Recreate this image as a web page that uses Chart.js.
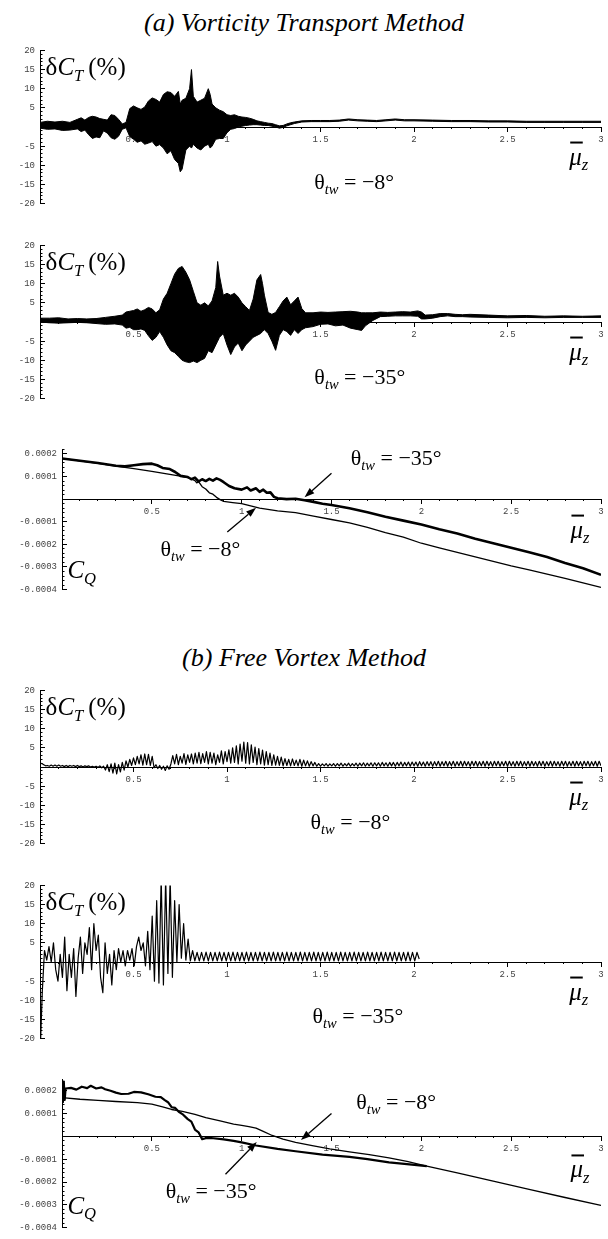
<!DOCTYPE html>
<html>
<head>
<meta charset="utf-8">
<script src="https://cdn.jsdelivr.net/npm/chart.js@4.4.1/dist/chart.umd.min.js"></script>
<style>
  html, body { margin: 0; padding: 0; background: #fff; }
  #page { position: relative; width: 608px; height: 1239px; overflow: hidden; }
  #page canvas { position: absolute; left: 0; }
  .ttl { position: absolute; left: 0; width: 608px; text-align: center;
         font: italic 26px "Liberation Serif", "Times New Roman", serif; line-height: 26px; }
</style>
</head>
<body>
<div id="page">
  <div class="ttl" style="top:10px">(a) Vorticity Transport Method</div>
  <canvas id="c1" width="608" height="184" style="top:35px"></canvas>
  <canvas id="c2" width="608" height="184" style="top:230px"></canvas>
  <canvas id="c3" width="608" height="171" style="top:434px"></canvas>
  <div class="ttl" style="top:645px">(b) Free Vortex Method</div>
  <canvas id="c4" width="608" height="184" style="top:675px"></canvas>
  <canvas id="c5" width="608" height="184" style="top:870px"></canvas>
  <canvas id="c6" width="608" height="179" style="top:1064px"></canvas>
</div>
<script>
// ---- (a) vorticity transport, dC_T envelope (upper / lower edge of the oscillation band)
const vtm8X = [0, 0.04, 0.08, 0.12, 0.16, 0.2, 0.22, 0.24, 0.26, 0.28,
  0.3, 0.32, 0.34, 0.36, 0.38, 0.4, 0.42, 0.44, 0.46, 0.48,
  0.5, 0.52, 0.54, 0.56, 0.58, 0.6, 0.62, 0.64, 0.66, 0.68,
  0.7, 0.72, 0.74, 0.75, 0.76, 0.78, 0.8, 0.81, 0.82, 0.84,
  0.86, 0.88, 0.9, 0.91, 0.92, 0.94, 0.96, 0.98, 1.0, 1.02,
  1.04, 1.06, 1.08, 1.1, 1.12, 1.14, 1.16, 1.18, 1.2, 1.22,
  1.24, 1.26, 1.28, 1.3, 1.32, 1.34, 1.36, 1.4, 1.45, 1.5,
  1.55, 1.6, 1.65, 1.7, 1.75, 1.8, 1.85, 1.9, 1.95, 2.0,
  2.1, 2.2, 2.3, 2.4, 2.5, 2.6, 2.7, 2.8, 2.9, 3.0];
const vtm8Hi = [1.2, 1.5, 1.3, 1.5, 1.2, 2.0, 2.4, 1.8, 2.5, 2.8,
  2.6, 2.2, 2.0, 1.8, 3.2, 3.0, 2.0, 0.8, 1.2, 4.8,
  5.5, 5.0, 4.6, 5.2, 6.8, 7.6, 7.2, 6.5, 8.5, 9.2,
  9.0, 8.0, 9.3, 6.0, 7.0, 7.5, 10.0, 15.0, 8.0, 6.5,
  7.0, 7.5, 10.0, 8.5, 6.0, 5.0, 4.4, 4.0, 3.2, 3.0,
  3.2, 2.8, 2.6, 2.5, 2.3, 2.0, 1.6, 1.4, 1.2, 1.0,
  0.9, 0.6, 0.3, 0.4, 0.8, 1.1, 1.3, 1.6, 1.7, 1.7,
  1.7, 1.8, 2.1, 1.9, 1.8, 1.7, 1.9, 2.1, 1.9, 1.9,
  1.8, 1.7, 1.7, 1.6, 1.6, 1.5, 1.5, 1.5, 1.5, 1.5];
const vtm8Lo = [-0.3, -0.6, -0.5, -0.9, -0.8, -0.5, -1.2, -0.8, -2.0, -3.0,
  -2.6, -2.8, -1.0, -1.6, -2.8, -3.2, -2.4, -0.6, -0.2, -2.5,
  -3.2, -4.0, -3.6, -4.5, -4.2, -3.8, -5.0, -4.6, -5.5, -7.0,
  -6.2, -8.5, -9.5, -11.7, -11.0, -6.0, -5.0, -5.5, -4.5, -5.5,
  -6.0, -5.0, -4.5, -5.5, -5.0, -3.2, -3.0, -3.0, -1.5, -0.6,
  -0.4, 0.0, 0.2, 0.4, 0.5, 0.6, 0.6, 0.5, 0.4, 0.4,
  0.2, 0.0, -0.3, -0.1, 0.3, 0.6, 0.9, 1.3, 1.4, 1.4,
  1.4, 1.5, 1.8, 1.6, 1.5, 1.4, 1.6, 1.8, 1.6, 1.6,
  1.5, 1.4, 1.4, 1.3, 1.3, 1.2, 1.2, 1.2, 1.2, 1.2];

const vtm35X = [0, 0.05, 0.1, 0.15, 0.2, 0.25, 0.3, 0.35, 0.4, 0.44,
  0.46, 0.48, 0.5, 0.52, 0.54, 0.56, 0.58, 0.6, 0.62, 0.64,
  0.66, 0.68, 0.7, 0.72, 0.74, 0.76, 0.78, 0.8, 0.82, 0.84,
  0.86, 0.88, 0.9, 0.92, 0.94, 0.95, 0.96, 0.98, 1.0, 1.02,
  1.04, 1.06, 1.08, 1.1, 1.12, 1.14, 1.16, 1.18, 1.19, 1.2,
  1.22, 1.24, 1.26, 1.28, 1.3, 1.32, 1.34, 1.36, 1.38, 1.4,
  1.42, 1.46, 1.5, 1.54, 1.58, 1.62, 1.66, 1.7, 1.72, 1.74,
  1.78, 1.82, 1.86, 1.9, 1.94, 1.98, 2.02, 2.04, 2.06, 2.1,
  2.14, 2.18, 2.22, 2.26, 2.3, 2.4, 2.5, 2.6, 2.7, 2.8,
  2.9, 3.0];
const vtm35Hi = [1.0, 1.0, 1.1, 0.8, 0.9, 0.8, 0.9, 1.2, 1.5, 1.8,
  2.6, 2.8, 3.0, 3.4, 2.8, 3.2, 3.8, 3.4, 2.4, 3.2,
  6.0, 7.5, 10.0, 12.5, 14.0, 14.5, 13.0, 11.0, 8.0, 5.0,
  4.4, 5.0, 4.2, 5.5, 9.0, 15.8, 12.0, 7.0, 7.5, 7.0,
  7.5, 6.5, 5.0, 4.0, 3.0, 6.0, 11.0, 12.4, 10.0, 7.0,
  2.5, 2.0, 2.5, 4.0, 5.5, 6.5, 4.5, 5.5, 6.5, 3.5,
  2.4, 2.4, 2.6, 2.5, 2.6, 2.7, 2.8, 2.6, 2.4, 2.4,
  2.4, 2.6, 2.5, 2.6, 2.7, 2.6, 2.9, 2.6, 1.8, 1.9,
  2.2, 2.2, 2.0, 1.9, 2.0, 1.8, 1.6, 1.7, 1.5, 1.6,
  1.5, 1.6];
const vtm35Lo = [0.0, -0.2, -0.3, -0.2, -0.1, -0.2, -0.4, -0.6, -0.5, -0.8,
  -1.6, -1.4, -2.0, -2.0, -1.8, -2.2, -3.6, -4.8, -4.0, -2.5,
  -4.0, -6.0, -7.5, -8.0, -9.0, -10.0, -10.4, -10.6, -10.2, -10.6,
  -10.0, -9.5, -7.5, -8.0, -6.0, -5.0, -4.0, -3.0, -6.0, -8.5,
  -6.5, -5.5, -7.5, -6.0, -5.0, -4.0, -3.5, -3.0, -2.5, -2.0,
  -3.0, -5.0, -7.4, -3.5, -2.0, -2.5, -3.5, -2.0, -3.0, -2.0,
  -1.5, -1.2, -0.6, -0.5, -1.0, -0.8, -1.6, -2.0, -2.2, -1.0,
  0.4, 1.4, 1.5, 1.6, 1.6, 1.6, 1.5, 0.8, 0.8, 1.0,
  1.4, 1.6, 1.4, 1.4, 1.3, 1.2, 1.1, 1.2, 1.1, 1.2,
  1.2, 1.2];

// ---- (a) vorticity transport, C_Q
const vtmCq8X = [0, 0.1, 0.2, 0.3, 0.4, 0.5, 0.6, 0.65, 0.7, 0.72,
  0.74, 0.75, 0.76, 0.78, 0.8, 0.82, 0.84, 0.86, 0.88, 0.9,
  0.95, 1.0, 1.05, 1.1, 1.2, 1.3, 1.4, 1.5, 1.6, 1.7,
  1.8, 1.9, 2.0, 2.1, 2.2, 2.3, 2.4, 2.5, 2.6, 2.7,
  2.8, 2.9, 3.0];
const vtmCq8Y = [0.000180, 0.000169, 0.000158, 0.000146, 0.000135, 0.000123, 0.000110, 0.000103, 0.000095, 0.000090,
  0.000082, 0.000072, 0.000078, 0.000055, 0.000045, 0.000028, 0.000022, 0.000008, -0.000002, -0.000010,
  -0.000015, -0.000020, -0.000030, -0.000040, -0.000052, -0.000060, -0.000075, -0.000090, -0.000105, -0.000125,
  -0.000148, -0.000168, -0.000195, -0.000215, -0.000235, -0.000255, -0.000275, -0.000295, -0.000313, -0.000332,
  -0.000350, -0.000370, -0.000390];
const vtmCq35X = [0, 0.1, 0.2, 0.3, 0.35, 0.4, 0.45, 0.5, 0.53, 0.56,
  0.6, 0.63, 0.66, 0.7, 0.72, 0.74, 0.76, 0.78, 0.8, 0.82,
  0.84, 0.86, 0.88, 0.9, 0.93, 0.96, 1.0, 1.03, 1.05, 1.08,
  1.1, 1.12, 1.14, 1.16, 1.18, 1.2, 1.25, 1.3, 1.35, 1.4,
  1.45, 1.5, 1.6, 1.7, 1.8, 1.9, 2.0, 2.1, 2.2, 2.3,
  2.4, 2.5, 2.6, 2.7, 2.8, 2.9, 3.0];
const vtmCq35Y = [0.000180, 0.000170, 0.000160, 0.000148, 0.000145, 0.000150, 0.000155, 0.000157, 0.000150, 0.000138,
  0.000133, 0.000120, 0.000103, 0.000098, 0.000088, 0.000095, 0.000078, 0.000088, 0.000080, 0.000090,
  0.000082, 0.000092, 0.000085, 0.000075, 0.000058, 0.000048, 0.000042, 0.000052, 0.000038, 0.000048,
  0.000032, 0.000042, 0.000028, 0.000030, 0.000010, 0.000004, 0.000000, 0.000002, -0.000005, -0.000012,
  -0.000020, -0.000026, -0.000040, -0.000058, -0.000078, -0.000095, -0.000112, -0.000133, -0.000152, -0.000175,
  -0.000195, -0.000215, -0.000235, -0.000256, -0.000282, -0.000306, -0.000335];

// ---- (b) free vortex, dC_T sampled every fvm8Step from 0
const fvm8Step = 0.01;
const fvm8Y = [1.0, 0.9, 0.6, 0.3, 0.4, 0.2, 0.5, 0.2, 0.5, 0.2,
  0.5, 0.2, 0.4, 0.1, 0.4, 0.1, 0.4, 0.2, 0.4, 0.1,
  0.4, 0.1, 0.3, 0.0, 0.3, 0.1, 0.3, 0.0, 0.2, 0.0,
  0.2, -0.1, 0.3, -0.2, 0.2, -0.8, 0.6, -1.2, 0.8, -1.6,
  1.0, -1.8, 0.6, -1.3, 1.2, -0.8, 1.6, 0.0, 2.0, 0.4,
  2.4, 0.6, 2.8, 0.8, 3.2, 0.5, 3.4, 0.6, 3.3, 0.4,
  2.8, -0.2, 0.6, -0.4, 0.4, -0.6, 0.2, -0.9, 0.3, -0.6,
  0.8, 3.0, 0.8, 3.3, 0.6, 2.8, 1.0, 3.5, 0.7, 3.2,
  1.2, 3.4, 0.8, 3.6, 1.0, 3.8, 0.9, 3.5, 1.2, 4.0,
  0.8, 3.8, 1.0, 3.6, 0.6, 3.2, 1.2, 4.2, 0.8, 4.0,
  1.4, 4.5, 1.0, 5.0, 1.2, 5.5, 0.8, 6.0, 1.5, 6.5,
  1.0, 6.4, 0.8, 5.8, 1.2, 5.2, 0.6, 4.8, 0.8, 4.4,
  0.5, 4.0, 0.6, 3.6, 0.4, 3.2, 0.5, 2.8, 0.4, 2.6,
  0.3, 2.2, 0.4, 2.0, 0.3, 2.1, 0.4, 1.8, 0.3, 2.0,
  0.2, 1.8, 0.3, 1.6, 0.2, 1.4, 0.3, 1.2, 0.2, 0.9,
  0.2, 0.8, 0.3, 0.9, 0.2, 0.8, 0.3, 0.9, 0.2, 0.9,
  0.3, 1.0, 0.2, 0.9, 0.3, 1.0, 0.2, 0.9, 0.3, 1.0,
  0.2, 1.0, 0.3, 1.1, 0.2, 1.0, 0.3, 1.1, 0.2, 1.1,
  0.3, 1.1, 0.2, 1.2, 0.3, 1.1, 0.2, 1.2, 0.3, 1.2,
  0.2, 1.2, 0.3, 1.3, 0.2, 1.2, 0.3, 1.3, 0.2, 1.3,
  0.3, 1.3, 0.2, 1.4, 0.3, 1.3, 0.2, 1.4, 0.3, 1.4,
  0.2, 1.4, 0.3, 1.5, 0.2, 1.4, 0.3, 1.5, 0.2, 1.4,
  0.3, 1.5, 0.2, 1.4, 0.3, 1.5, 0.2, 1.5, 0.3, 1.4,
  0.2, 1.5, 0.3, 1.5, 0.2, 1.4, 0.3, 1.5, 0.2, 1.5,
  0.3, 1.4, 0.2, 1.5, 0.3, 1.5, 0.2, 1.4, 0.3, 1.5,
  0.2, 1.5, 0.3, 1.4, 0.2, 1.5, 0.3, 1.5, 0.2, 1.4,
  0.3, 1.5, 0.2, 1.5, 0.3, 1.4, 0.2, 1.5, 0.3, 1.5,
  0.2, 1.4, 0.3, 1.5, 0.2, 1.5, 0.3, 1.4, 0.2, 1.5,
  0.3, 1.5, 0.2, 1.4, 0.3, 1.5, 0.2, 1.5, 0.3, 1.4,
  0.2, 1.5, 0.3, 1.5, 0.2, 1.4, 0.3, 1.5, 0.2, 1.5,
  0.3];

const fvm35Step = 0.012;
const fvm35Y = [-25, -8, 3, 0.5, 4, 0, 5, -2, -5, 2,
  -4, 6.5, -7.5, 2, -4, 3.5, -9, 1, 6.5, -3,
  5, 2, 9, -2, 10, 3, 7, -4, -8, 5,
  -3, 2, -6, 3, -2, 3.5, 0, 3, -1, 3,
  0.5, 3.5, -1, 4, 6.5, 3, 5, -1, 8, -2,
  12, -5, 16, -5.5, 22, -6, 22, -3, 22, -4,
  16, 0, 15, 1, 10, 0.5, 6, 0.3, 3, 0.3,
  2.5, 0.3, 2.5, 0.3, 2.6, 0.3, 2.5, 0.3, 2.5, 0.3,
  2.6, 0.3, 2.5, 0.3, 2.5, 0.3, 2.6, 0.3, 2.5, 0.3,
  2.5, 0.3, 2.6, 0.3, 2.5, 0.3, 2.5, 0.3, 2.6, 0.3,
  2.5, 0.3, 2.5, 0.3, 2.6, 0.3, 2.5, 0.3, 2.5, 0.3,
  2.6, 0.3, 2.5, 0.3, 2.5, 0.3, 2.6, 0.3, 2.5, 0.3,
  2.5, 0.3, 2.6, 0.3, 2.5, 0.3, 2.5, 0.3, 2.6, 0.3,
  2.5, 0.3, 2.5, 0.3, 2.6, 0.3, 2.5, 0.3, 2.5, 0.3,
  2.6, 0.3, 2.5, 0.3, 2.5, 0.3, 2.6, 0.3, 2.5, 0.3,
  2.5, 0.3, 2.6, 0.3, 2.5, 0.3, 2.5, 0.3, 2.6, 0.3,
  2.5, 0.3, 2.5, 0.3, 2.6, 0.3, 2.5, 0.3, 2.5, 0.8];

// ---- (b) free vortex, C_Q
const fvmCq8X = [0, 0.1, 0.2, 0.3, 0.42, 0.5, 0.56, 0.61, 0.67, 0.74,
  0.8, 0.88, 0.955, 1.0, 1.04, 1.08, 1.12, 1.17, 1.23, 1.3,
  1.4, 1.49, 1.6, 1.71, 1.82, 1.92, 2.03, 2.2, 2.4, 2.6,
  2.8, 3.0];
const fvmCq8Y = [0.000170, 0.000163, 0.000158, 0.000153, 0.000148, 0.000142, 0.000130, 0.000118, 0.000110, 0.000097,
  0.000082, 0.000068, 0.000054, 0.000048, 0.000043, 0.000036, 0.000022, 0.000004, -0.000012, -0.000026,
  -0.000042, -0.000055, -0.000068, -0.000080, -0.000094, -0.000110, -0.000130, -0.000160, -0.000196, -0.000232,
  -0.000268, -0.000303];
const fvmCq35X = [0, 0.005, 0.01, 0.015, 0.02, 0.05, 0.08, 0.11, 0.14, 0.16,
  0.19, 0.22, 0.24, 0.27, 0.3, 0.33, 0.37, 0.4, 0.44, 0.48,
  0.52, 0.55, 0.57, 0.59, 0.61, 0.63, 0.65, 0.67, 0.7, 0.72,
  0.74, 0.76, 0.78, 0.8, 0.83, 0.9, 0.955, 1.0, 1.08, 1.2,
  1.3, 1.45, 1.6, 1.7, 1.82, 1.92, 2.03];
const fvmCq35Y = [0.000220, 0.000150, 0.000240, 0.000160, 0.000210, 0.000213, 0.000205, 0.000218, 0.000212, 0.000222,
  0.000210, 0.000215, 0.000207, 0.000200, 0.000192, 0.000186, 0.000187, 0.000195, 0.000193, 0.000185,
  0.000174, 0.000172, 0.000160, 0.000150, 0.000128, 0.000125, 0.000108, 0.000098, 0.000076, 0.000065,
  0.000030, 0.000018, -0.000012, -0.000008, -0.000007, -0.000013, -0.000020, -0.000026, -0.000040, -0.000055,
  -0.000065, -0.000080, -0.000090, -0.000100, -0.000114, -0.000122, -0.000130];

// arrows: [tailX, tailY, tipX, tipY] in data units
const vtmCqArrows = [[1.50, 0.000115, 1.35, 0.000008], [0.92, -0.000145, 1.08, -0.000038]];
const fvmCqArrows = [[1.50, 0.000100, 1.33, -0.000016], [0.91, -0.000166, 1.084, -0.000025]];

const serif = '"Liberation Serif", "Times New Roman", serif';
const mono = '"Liberation Mono", "Courier New", monospace';

const pts = (xs, ys) => xs.map((x, i) => ({ x, y: ys[i] }));
const stepPts = (step, ys) => ys.map((y, i) => ({ x: +(i * step).toFixed(4), y }));

// parts: [text, style]; style letters: s = subscript, i = italic, b = overbar
function drawRun(ctx, parts, x, y, size, align) {
  let total = 0;
  const runs = parts.map(([t, st]) => {
    const sub = st.includes('s');
    const fs = sub ? size * 0.66 : size;
    const font = (st.includes('i') ? 'italic ' : '') + fs + 'px ' + serif;
    ctx.font = font;
    const w = ctx.measureText(t).width;
    total += w;
    return { t, font, w, dy: sub ? size * 0.22 : 0, bar: st.includes('b') };
  });
  let cx = align === 'center' ? x - total / 2 : x;
  ctx.fillStyle = '#000';
  ctx.textAlign = 'left';
  ctx.textBaseline = 'alphabetic';
  runs.forEach(r => {
    ctx.font = r.font;
    ctx.fillText(r.t, cx, y + r.dy);
    if (r.bar) ctx.fillRect(cx + 1, y - size * 0.92, r.w, 2);
    cx += r.w;
  });
}

function drawArrow(ctx, x1, y1, x2, y2) {
  const a = Math.atan2(y2 - y1, x2 - x1), L = 10, W = 3.5;
  const bx = x2 - L * Math.cos(a), by = y2 - L * Math.sin(a);
  ctx.strokeStyle = '#000';
  ctx.fillStyle = '#000';
  ctx.lineWidth = 1.3;
  ctx.beginPath(); ctx.moveTo(x1, y1); ctx.lineTo(bx, by); ctx.stroke();
  ctx.beginPath();
  ctx.moveTo(x2, y2);
  ctx.lineTo(bx - W * Math.sin(a), by + W * Math.cos(a));
  ctx.lineTo(bx + W * Math.sin(a), by - W * Math.cos(a));
  ctx.closePath(); ctx.fill();
}

function annotator(labels, arrows) {
  return {
    id: 'annotator',
    afterDraw(chart) {
      const { ctx } = chart, xs = chart.scales.x, ys = chart.scales.y;
      ctx.save();
      labels.forEach(l => drawRun(ctx, l.parts, xs.getPixelForValue(l.x), ys.getPixelForValue(l.y), l.size, l.align));
      arrows.forEach(a => drawArrow(ctx, xs.getPixelForValue(a[0]), ys.getPixelForValue(a[1]),
        xs.getPixelForValue(a[2]), ys.getPixelForValue(a[3])));
      ctx.restore();
    }
  };
}

const tickFont = { family: mono, size: 9 };
const tickColor = '#444';

function panel(id, o) {
  return new Chart(document.getElementById(id), {
    type: 'line',
    data: { datasets: o.datasets },
    options: {
      responsive: false,
      animation: false,
      devicePixelRatio: 1,
      events: [],
      layout: { autoPadding: false, padding: { left: 0, right: 7, top: 8, bottom: 8 } },
      plugins: { legend: { display: false }, tooltip: { enabled: false } },
      elements: {
        point: { radius: 0 },
        line: { tension: 0, borderJoinStyle: 'round', borderCapStyle: 'butt' }
      },
      scales: {
        x: {
          type: 'linear', min: 0, max: 3, position: { y: 0 },
          afterFit: s => { s.height = 0; },
          border: { display: true, color: '#000', width: 1 },
          grid: { drawOnChartArea: false, tickLength: 4, color: '#000' },
          ticks: {
            stepSize: 0.5, autoSkip: false, maxRotation: 0, includeBounds: false, padding: 3,
            color: tickColor, font: tickFont,
            callback: v => Math.abs(v) < 1e-9 ? '' : String(+v.toFixed(1))
          }
        },
        xm: {
          type: 'linear', axis: 'x', min: 0, max: 3, position: { y: 0 },
          afterFit: s => { s.height = 0; },
          border: { display: false },
          grid: { drawOnChartArea: false, tickLength: 2, color: '#000' },
          ticks: { stepSize: 0.1, autoSkip: false, display: false, includeBounds: false }
        },
        // y sits outermost (higher weight) and owns the label strip; ym is a zero-width minor-tick axis
        y: {
          type: 'linear', min: o.ymin, max: o.ymax, position: 'left', weight: 2,
          afterFit: s => { s.width = o.left; },
          border: { display: true, color: '#000', width: 1 },
          grid: { drawOnChartArea: false, tickLength: -5, color: '#000' },
          ticks: {
            stepSize: o.ystep, autoSkip: false, includeBounds: false, padding: 10,
            color: tickColor, font: tickFont, callback: o.yfmt
          }
        },
        ym: {
          type: 'linear', axis: 'y', min: o.ymin, max: o.ymax, position: 'left', weight: 1,
          afterFit: s => { s.width = 0; },
          border: { display: false },
          grid: { drawOnChartArea: false, tickLength: -2.5, color: '#000' },
          ticks: { stepSize: o.yminor, autoSkip: false, display: false, includeBounds: false }
        }
      }
    },
    plugins: [annotator(o.labels, o.arrows || [])]
  });
}

const pctFmt = v => Math.abs(v) < 1e-9 ? '' : String(v);
const cqFmt = v => Math.abs(v) < 1e-12 ? '' : v.toFixed(4);

const dctLabel = { x: 0.03, y: 13.5, size: 25, parts: [['δ', 'r'], ['C', 'i'], ['T', 'si'], ['\u2009(%)', 'r']] };
const muLabel = { x: 2.83, y: -9.8, size: 25, parts: [['μ', 'ib'], ['z', 'si']] };
const theta = (txt, x, y) => ({ x, y, size: 22, align: 'center', parts: [['θ', 'r'], ['tw', 'si'], [' = −' + txt + '°', 'r']] });

const line = (data, w, extra) => Object.assign({
  data, borderColor: '#000', backgroundColor: '#000', borderWidth: w, fill: false,
  pointRadius: 0, xAxisID: 'x', yAxisID: 'y'
}, extra || {});

const pctOpts = { left: 40, ymin: -20, ymax: 20, ystep: 5, yminor: 1, yfmt: pctFmt };

panel('c1', Object.assign({}, pctOpts, {
  datasets: [line(pts(vtm8X, vtm8Hi), 1, { fill: '+1' }), line(pts(vtm8X, vtm8Lo), 1)],
  labels: [dctLabel, muLabel, theta('8', 1.68, -16.2)]
}));

panel('c2', Object.assign({}, pctOpts, {
  datasets: [line(pts(vtm35X, vtm35Hi), 1, { fill: '+1' }), line(pts(vtm35X, vtm35Lo), 1)],
  labels: [dctLabel, muLabel, theta('35', 1.71, -16.2)]
}));

panel('c3', {
  left: 62, ymin: -0.0004, ymax: 0.00022, ystep: 0.0001, yminor: 0.00002, yfmt: cqFmt,
  datasets: [line(pts(vtmCq8X, vtmCq8Y), 1.3), line(pts(vtmCq35X, vtmCq35Y), 2.6)],
  labels: [
    { x: 0.03, y: -0.00035, size: 25, parts: [['C', 'i'], ['Q', 'si']] },
    { x: 2.83, y: -0.00017, size: 25, parts: [['μ', 'ib'], ['z', 'si']] },
    theta('35', 1.86, 0.00015), theta('8', 0.77, -0.00025)
  ],
  arrows: vtmCqArrows
});

panel('c4', Object.assign({}, pctOpts, {
  datasets: [line(stepPts(fvm8Step, fvm8Y), 1.2)],
  labels: [dctLabel, muLabel, theta('8', 1.66, -16.2)]
}));

panel('c5', Object.assign({}, pctOpts, {
  datasets: [line(stepPts(fvm35Step, fvm35Y), 1.2)],
  labels: [dctLabel, muLabel, theta('35', 1.70, -16.0)]
}));

panel('c6', {
  left: 62, ymin: -0.0004, ymax: 0.00025, ystep: 0.0001, yminor: 0.00002, yfmt: cqFmt,
  datasets: [line(pts(fvmCq8X, fvmCq8Y), 1.3), line(pts(fvmCq35X, fvmCq35Y), 2.2)],
  labels: [
    { x: 0.03, y: -0.00034, size: 25, parts: [['C', 'i'], ['Q', 'si']] },
    { x: 2.83, y: -0.00018, size: 25, parts: [['μ', 'ib'], ['z', 'si']] },
    theta('8', 1.86, 0.000118), theta('35', 0.83, -0.00027)
  ],
  arrows: fvmCqArrows
});
</script>
</body>
</html>
